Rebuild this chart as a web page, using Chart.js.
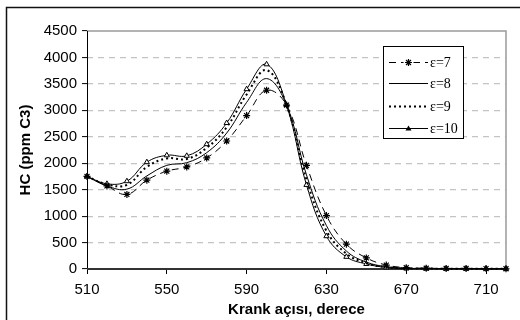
<!DOCTYPE html>
<html>
<head>
<meta charset="utf-8">
<script src="https://cdn.jsdelivr.net/npm/chart.js@4.4.1/dist/chart.umd.min.js"></script>
<style>
  html, body { margin: 0; padding: 0; background: #fff; }
  #wrap { position: relative; width: 520px; height: 320px; }
</style>
</head>
<body>
<div id="wrap"><canvas id="c" width="520" height="320"></canvas></div>
<script>
// Crank angle (degrees) and HC emissions (ppm C3) for four compression ratios
const crankAngles = [510, 520, 530, 540, 550, 560, 570, 580, 590, 600, 610, 620, 630, 640, 650, 660, 670, 680, 690, 700, 710, 720];
const hcEps7  = [1750, 1570, 1410, 1680, 1850, 1930, 2100, 2420, 2900, 3380, 3100, 1960, 1010, 470, 210, 75, 25, 15, 10, 10, 8, 5];
const hcEps8  = [1750, 1570, 1510, 1760, 1960, 2010, 2200, 2570, 3150, 3600, 3100, 1780, 820, 340, 130, 45, 15, 10, 8, 8, 6, 5];
const hcEps9  = [1750, 1600, 1590, 1930, 2090, 2080, 2290, 2680, 3300, 3760, 3100, 1690, 720, 290, 110, 35, 12, 8, 6, 6, 5, 5];
const hcEps10 = [1750, 1610, 1660, 2020, 2150, 2140, 2360, 2760, 3400, 3870, 3100, 1590, 620, 230, 95, 30, 10, 6, 5, 5, 5, 5];
const seriesLabels = ['ε=7', 'ε=8', 'ε=9', 'ε=10'];
const xTickValues = [510, 550, 590, 630, 670, 710];
const yTickValues = [0, 500, 1000, 1500, 2000, 2500, 3000, 3500, 4000, 4500];

const toPoints = (ys) => ys.map((y, i) => ({ x: crankAngles[i], y }));

const datasets = [
  { label: seriesLabels[0], data: toPoints(hcEps7), borderColor: '#000', borderWidth: 1,
    borderDash: [7, 5], pointStyle: 'star', pointRadius: 3.5, pointBorderColor: '#000',
    pointBorderWidth: 1.2, pointBackgroundColor: '#000' },
  { label: seriesLabels[1], data: toPoints(hcEps8), borderColor: '#000', borderWidth: 1,
    pointRadius: 0 },
  { label: seriesLabels[2], data: toPoints(hcEps9), borderColor: '#000', borderWidth: 2,
    borderDash: [2, 3], pointRadius: 0 },
  { label: seriesLabels[3], data: toPoints(hcEps10), borderColor: '#000', borderWidth: 1,
    pointStyle: 'triangle', pointRadius: 3, pointBorderColor: '#000', pointBorderWidth: 1,
    pointBackgroundColor: '#fff' }
];

// Page frame, white background and plot-area border
const framePlugin = {
  id: 'frame',
  beforeDraw(chart) {
    const ctx = chart.ctx;
    ctx.save();
    ctx.fillStyle = '#fff';
    ctx.fillRect(0, 0, chart.width, chart.height);
    ctx.strokeStyle = '#111';
    ctx.lineWidth = 1.5;
    ctx.beginPath();
    ctx.moveTo(6.5, chart.height + 5);
    ctx.lineTo(6.5, 7.5);
    ctx.lineTo(chart.width + 5, 7.5);
    ctx.stroke();
    ctx.restore();
  },
  beforeDatasetsDraw(chart) {
    const { ctx, chartArea: a } = chart;
    ctx.save();
    ctx.strokeStyle = '#9a9a9a';
    ctx.lineWidth = 1.5;
    ctx.beginPath();
    ctx.moveTo(a.left, a.top);
    ctx.lineTo(a.right, a.top);
    ctx.lineTo(a.right, a.bottom);
    ctx.stroke();
    ctx.strokeStyle = '#000';
    ctx.lineWidth = 1;
    ctx.beginPath();
    ctx.moveTo(a.left + 0.5, a.top);
    ctx.lineTo(a.left + 0.5, a.bottom);
    ctx.stroke();
    ctx.strokeStyle = '#333';
    ctx.lineWidth = 2;
    ctx.beginPath();
    ctx.moveTo(a.left, a.bottom);
    ctx.lineTo(a.right, a.bottom);
    ctx.stroke();
    ctx.restore();
  }
};

// Boxed legend inside the plot area
const boxLegendPlugin = {
  id: 'boxLegend',
  afterDraw(chart) {
    const ctx = chart.ctx;
    const bx = 383, by = 46, bw = 80, bh = 92;
    const rows = [62, 83, 106, 128];
    ctx.save();
    ctx.fillStyle = '#fff';
    ctx.fillRect(bx, by, bw, bh);
    ctx.strokeStyle = '#000';
    ctx.lineWidth = 1;
    ctx.strokeRect(bx + 0.5, by + 0.5, bw, bh);
    chart.data.datasets.forEach((ds, i) => {
      const y = rows[i] + 0.5;
      const x0 = 389, x1 = 428, xm = (x0 + x1) / 2;
      ctx.save();
      ctx.strokeStyle = ds.borderColor;
      ctx.lineWidth = ds.borderWidth;
      ctx.setLineDash(ds.borderDash || []);
      ctx.beginPath();
      ctx.moveTo(x0, y);
      ctx.lineTo(x1, y);
      ctx.stroke();
      ctx.restore();
      if (ds.pointStyle === 'star') {
        ctx.save();
        ctx.fillStyle = '#fff';
        ctx.fillRect(xm - 5, y - 4, 10, 8);
        ctx.strokeStyle = '#000';
        ctx.lineWidth = 1.2;
        const r = 3.5;
        ctx.beginPath();
        for (let k = 0; k < 4; k++) {
          const ang = k * Math.PI / 4;
          ctx.moveTo(xm - r * Math.cos(ang), y - r * Math.sin(ang));
          ctx.lineTo(xm + r * Math.cos(ang), y + r * Math.sin(ang));
        }
        ctx.stroke();
        ctx.restore();
      } else if (ds.pointStyle === 'triangle') {
        ctx.save();
        ctx.fillStyle = '#000';
        ctx.beginPath();
        ctx.moveTo(xm, y - 3);
        ctx.lineTo(xm + 3, y + 2);
        ctx.lineTo(xm - 3, y + 2);
        ctx.closePath();
        ctx.fill();
        ctx.restore();
      }
      ctx.fillStyle = '#000';
      ctx.font = '14px "Liberation Serif", "Times New Roman", serif';
      ctx.textBaseline = 'middle';
      ctx.textAlign = 'left';
      ctx.fillText(ds.label, 430, y + 1);
    });
    ctx.restore();
  }
};

const tickFont = { family: '"Liberation Sans", Arial, sans-serif', size: 15 };
const titleFont = { family: '"Liberation Sans", Arial, sans-serif', size: 15, weight: 'bold' };

new Chart(document.getElementById('c'), {
  type: 'line',
  data: { datasets },
  options: {
    responsive: false,
    animation: false,
    devicePixelRatio: 1,
    layout: { padding: { top: 31, right: 14, left: 0, bottom: 0 } },
    elements: { line: { tension: 0.4, fill: false } },
    clip: false,
    plugins: { legend: { display: false }, tooltip: { enabled: false } },
    scales: {
      x: {
        type: 'linear', min: 510, max: 720,
        afterBuildTicks: (s) => { s.ticks = xTickValues.map(v => ({ value: v })); },
        afterFit: (s) => { s.height = 51; },
        grid: { drawOnChartArea: false, drawTicks: true, tickLength: 5, tickColor: '#000', tickWidth: 1 },
        border: { display: false },
        ticks: { color: '#000', font: tickFont, padding: 7, maxRotation: 0,
                 callback: (v) => String(v) },
        title: { display: true, text: 'Krank açısı, derece', color: '#000', font: titleFont,
                 padding: { top: 0, bottom: 1 } }
      },
      y: {
        min: 0, max: 4500,
        afterBuildTicks: (s) => { s.ticks = yTickValues.map(v => ({ value: v })); },
        afterFit: (s) => { s.width = 87; },
        grid: {
          color: (c) => (c.tick && (c.tick.value === 0 || c.tick.value === 4500)) ? 'rgba(0,0,0,0)' : '#c4c4c4',
          lineWidth: 1.2, tickLength: 5, tickColor: '#000', tickWidth: 1
        },
        border: { display: false, dash: [6, 5] },
        ticks: { color: '#000', font: tickFont, padding: 5, callback: (v) => String(v) },
        title: { display: true, text: 'HC (ppm C3)', color: '#000', font: titleFont,
                 padding: { top: 17, bottom: 0 } }
      }
    }
  },
  plugins: [framePlugin, boxLegendPlugin]
});
</script>
</body>
</html>
